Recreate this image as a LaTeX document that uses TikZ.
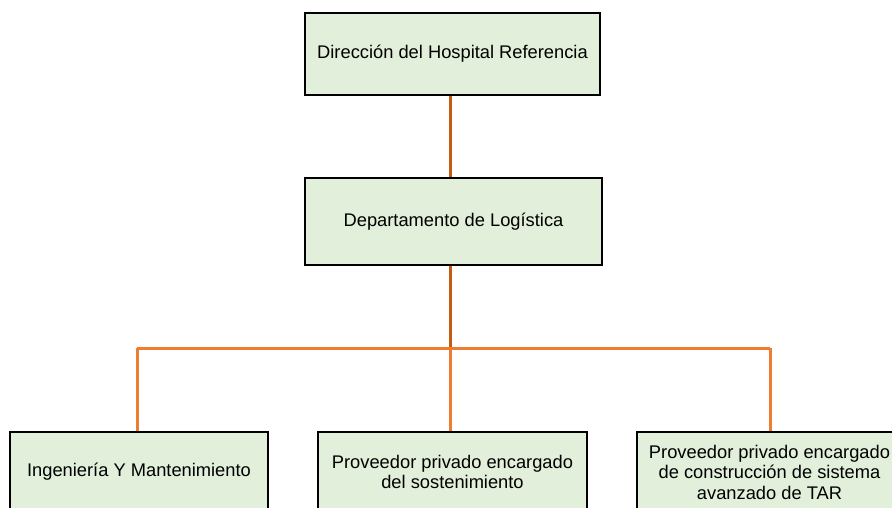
\documentclass[tikz,border=0pt]{standalone}
\usepackage{fontspec}
\setmainfont{Liberation Sans}
\usetikzlibrary{backgrounds}
\definecolor{boxfill}{HTML}{E2EFDA}
\definecolor{darkor}{HTML}{C55A11}
\definecolor{lightor}{HTML}{ED7D31}
\begin{document}
\begin{tikzpicture}[x=1pt,y=-1pt,
  orgbox/.style={draw=black,fill=boxfill,line width=2.6pt,align=center,inner sep=2pt,
    font=\fontsize{18.3}{20.5}\selectfont},
  upline/.style={draw=darkor,line width=3pt},
  busline/.style={draw=lightor,line width=3pt}]
\useasboundingbox (0,0) rectangle (892,508);
\clip (0,0) rectangle (892,508);
\node[orgbox,minimum width=295pt,minimum height=82pt] (dir) at (452.5,54) {Dirección del Hospital Referencia};
\node[orgbox,minimum width=297pt,minimum height=87pt] (log) at (453.5,221.5) {Departamento de Logística};
\node[orgbox,minimum width=258pt,minimum height=80pt] (ing) at (139,472) {Ingeniería Y Mantenimiento};
\node[orgbox,minimum width=269pt,minimum height=80pt] (sos) at (452.5,472) {Proveedor privado encargado\\del sostenimiento};
\node[orgbox,minimum width=265pt,minimum height=80pt] (tar) at (769.5,472) {Proveedor privado encargado\\de construcción de sistema\\avanzado de TAR};
\coordinate (bus) at (450,348);
\coordinate (busL) at (137,348);
\coordinate (busR) at (770,348);
\begin{scope}[on background layer]
\draw[upline] (dir.south -| bus) -- (log.north -| bus);
\draw[upline] (log.south -| bus) -- (bus);
\draw[busline] (busL) -- (busR);
\draw[busline] (busL) -- (busL |- ing.north);
\draw[busline] (bus) -- (bus |- sos.north);
\draw[busline] (busR) -- (busR |- tar.north);
\end{scope}
\end{tikzpicture}
\end{document}
